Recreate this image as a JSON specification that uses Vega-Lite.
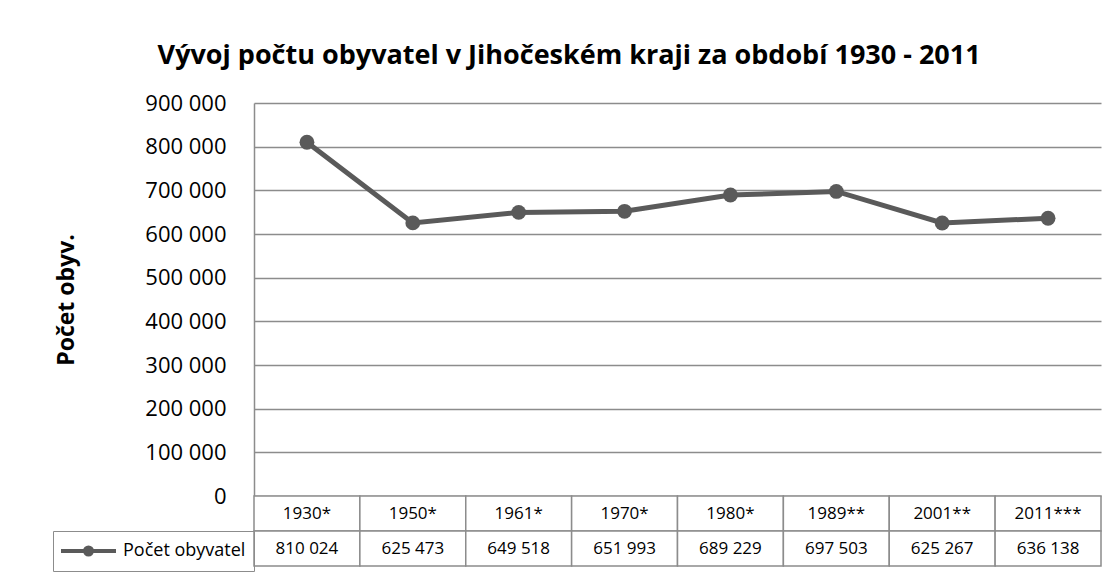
{
  "$schema": "https://vega.github.io/schema/vega-lite/v6.json",
  "padding": {"left": 52, "top": 42, "right": 5, "bottom": 5},
  "background": "white",
  "title": {"text": "Vývoj počtu obyvatel v Jihočeském kraji za období 1930 - 2011", "font": "Open Sans", "fontSize": 27, "fontWeight": "bold", "color": "black", "anchor": "middle", "frame": "bounds", "offset": 22, "dx": -8},
  "datasets": {
    "d": [
      {"rok": "1930*", "pocet": 810024},
      {"rok": "1950*", "pocet": 625473},
      {"rok": "1961*", "pocet": 649518},
      {"rok": "1970*", "pocet": 651993},
      {"rok": "1980*", "pocet": 689229},
      {"rok": "1989**", "pocet": 697503},
      {"rok": "2001**", "pocet": 625267},
      {"rok": "2011***", "pocet": 636138}
    ]
  },
  "spacing": 0,
  "bounds": "flush",
  "vconcat": [
    {
      "width": 847,
      "height": 393,
      "data": {"name": "d"},
      "mark": {"type": "line", "color": "#5a5a5a", "strokeWidth": 5, "point": {"filled": true, "size": 220, "color": "#5a5a5a"}},
      "encoding": {
        "x": {"field": "rok", "type": "ordinal", "sort": null, "scale": {"type": "point", "padding": 0.5}, "axis": null},
        "y": {"field": "pocet", "type": "quantitative", "scale": {"domain": [0, 900000], "nice": false},
          "axis": {"values": [0, 100000, 200000, 300000, 400000, 500000, 600000, 700000, 800000, 900000], "format": ",d",
            "title": "Počet obyv.", "titleFont": "Open Sans", "titleFontSize": 23, "titleFontWeight": "bold", "titleColor": "black", "titlePadding": 66,
            "labelFont": "Open Sans", "labelFontSize": 22, "labelColor": "black", "labelPadding": 28, "ticks": false,
            "domainColor": "#8c8c8c", "domainWidth": 1.5, "grid": true, "gridColor": "#8c8c8c", "gridWidth": 1.5}}
      }
    },
    {
      "width": 847,
      "height": 35,
      "data": {"name": "d"},
      "encoding": {"x": {"field": "rok", "type": "ordinal", "sort": null, "scale": {"type": "band", "paddingInner": 0, "paddingOuter": 0}, "axis": null}},
      "layer": [
        {"mark": {"type": "rect", "fill": "white", "stroke": "#8c8c8c", "strokeWidth": 1.5}},
        {"mark": {"type": "text", "font": "Open Sans", "fontSize": 17, "color": "black", "baseline": "middle"}, "encoding": {"text": {"field": "rok"}}}
      ]
    },
    {
      "width": 847,
      "height": 35,
      "data": {"name": "d"},
      "encoding": {"x": {"field": "rok", "type": "ordinal", "sort": null, "scale": {"type": "band", "paddingInner": 0, "paddingOuter": 0}, "axis": null}},
      "layer": [
        {"mark": {"type": "rect", "fill": "white", "stroke": "#8c8c8c", "strokeWidth": 1.5}},
        {"mark": {"type": "text", "font": "Open Sans", "fontSize": 17, "color": "black", "baseline": "middle", "strokeWidth": 0},
          "encoding": {
            "text": {"field": "pocet", "format": ",d"},
            "stroke": {"datum": "Počet obyvatel", "type": "nominal", "scale": {"range": ["#5a5a5a"]},
              "legend": {"orient": "left", "offset": 0, "title": null, "padding": 8, "strokeColor": "#8c8c8c",
                "symbolType": "M-1.2,0L4.3,0M1.9,0A0.35,0.35,0,1,1,1.2,0A0.35,0.35,0,1,1,1.9,0Z", "symbolSize": 400, "symbolStrokeWidth": 4,
                "symbolFillColor": "#5a5a5a",
                "labelFont": "Open Sans", "labelFontSize": 18, "labelColor": "black", "labelOffset": 38, "labelLimit": 300}}
          }}
      ]
    }
  ],
  "resolve": {"scale": {"x": "independent", "stroke": "independent"}, "legend": {"stroke": "independent"}},
  "config": {
    "view": {"stroke": null},
    "font": "Open Sans",
    "locale": {"number": {"decimal": ",", "thousands": " ", "grouping": [3], "currency": ["", " Kč"]}}
  }
}
